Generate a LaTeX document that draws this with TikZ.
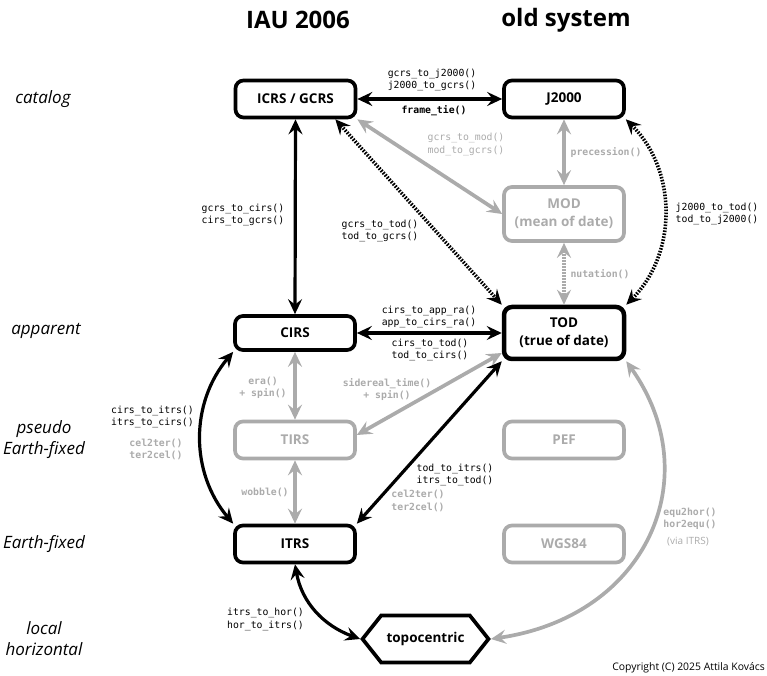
\documentclass[tikz,border=0pt]{standalone}
\usepackage{fontspec}
\setmainfont{Open Sans}
\setmonofont{DejaVu Sans Mono}
\usetikzlibrary{arrows.meta,shapes.symbols}
\definecolor{lg}{HTML}{ABABAB}
\begin{document}
\begin{tikzpicture}[x=1pt,y=1pt,
  >={Stealth[length=15pt,width=14pt,inset=5.5pt]},
  box/.style={draw, rounded corners=8pt, line width=3.7pt, minimum width=120pt,
    minimum height=37pt, inner sep=0pt, align=center,
    font=\fontsize{13.5}{18}\selectfont\bfseries},
  gbox/.style={box, draw=lg, text=lg},
  conn/.style={<->, line width=3.2pt},
  gconn/.style={<->, line width=3.7pt, draw=lg},
  dots/.style={dash pattern=on 1.6pt off 1.4pt},
  lbl/.style={inner sep=0pt, align=center, font=\fontsize{9.8}{12.5}\selectfont\ttfamily},
  glbl/.style={inner sep=0pt, align=center, text=lg, font=\fontsize{9.8}{12.5}\selectfont\ttfamily\bfseries},
  glbln/.style={lbl, text=lg},
  rowlbl/.style={inner sep=0pt, align=center, font=\fontsize{17}{21}\selectfont\itshape},
  head/.style={inner sep=0pt, font=\fontsize{24}{28}\selectfont\bfseries}
]
\useasboundingbox (0,0) rectangle (767,676);

% headers
\node[head] (h1) at (298,656) {IAU 2006};
\node[head] (h2) at (566,656) {old system};

% row labels
\node[rowlbl] (r1) at (43,577) {catalog};
\node[rowlbl] (r2) at (46,345) {apparent};
\node[rowlbl] (r3) at (44,236) {pseudo\\Earth-fixed};
\node[rowlbl] (r4) at (44,132) {Earth-fixed};
\node[rowlbl] (r5) at (44,37) {local\\horizontal};

% boxes
\node[box] (icrs) at (295.5,577) {ICRS / GCRS};
\node[box] (j2000) at (564,577) {J2000};
\node[gbox, minimum height=54pt] (mod) at (564,462) {MOD\\(mean of date)};
\node[box, line width=4.5pt, minimum height=52pt] (tod) at (564,343) {TOD\\(true of date)};
\node[box, minimum height=34pt] (cirs) at (295,343) {CIRS};
\node[gbox] (tirs) at (295,236) {TIRS};
\node[gbox] (pef) at (564,236) {PEF};
\node[box] (itrs) at (295,132) {ITRS};
\node[gbox] (wgs) at (564,132) {WGS84};
\node[draw, signal, signal to=east and west, signal pointer angle=103,
  line width=3.7pt, minimum width=126pt, minimum height=47pt, inner sep=0pt,
  font=\fontsize{13.5}{18}\selectfont\bfseries] (topo) at (425.5,37) {topocentric};

% connectors
\draw[conn] (icrs.east) -- (j2000.west);
\draw[conn] (icrs.south) -- (cirs.north);
\draw[conn, dots, line width=3.6pt] ([xshift=-22pt]icrs.south east) -- (tod.north west);
\draw[gconn] (icrs.south east) -- (mod.west);
\draw[gconn] (j2000.south) -- (mod.north);
\draw[gconn, dots] (mod.south) -- (tod.north);
\draw[conn, dots, line width=3.6pt] (j2000.south east) to[bend left=45] (tod.north east);
\draw[conn] (cirs.east) -- (tod.west);
\draw[gconn] (cirs.south) -- (tirs.north);
\draw[gconn] (tirs.south) -- (itrs.north);
\draw[gconn] ([yshift=-20pt]tod.west) -- ([yshift=5pt]tirs.east);
\draw[conn] (tod.south west) -- (itrs.north east);
\draw[conn] (cirs.south west) to[bend right=40] (itrs.north west);
\draw[conn] (itrs.south) to[out=-80,in=160] (topo.west);
\draw[gconn] (tod.south east) .. controls (708,200) and (648,60) .. (topo.east);

% connector labels
\node[lbl] (l1) at (432,596) {gcrs\_to\_j2000()\\j2000\_to\_gcrs()};
\node[lbl, font=\fontsize{9.8}{12.5}\selectfont\ttfamily\bfseries] (l2) at (434,565) {frame\_tie()};
\node[lbl] (l3) at (243,461) {gcrs\_to\_cirs()\\cirs\_to\_gcrs()};
\node[lbl] (l4) at (380,445) {gcrs\_to\_tod()\\tod\_to\_gcrs()};
\node[glbln] (l5) at (466,531.5) {gcrs\_to\_mod()\\mod\_to\_gcrs()};
\node[glbl] (l6) at (606,523) {precession()};
\node[glbl] (l7) at (600,402) {nutation()};
\node[lbl] (l8) at (717,462) {j2000\_to\_tod()\\tod\_to\_j2000()};
\node[lbl] (l9) at (429,359) {cirs\_to\_app\_ra()\\app\_to\_cirs\_ra()};
\node[lbl] (l10) at (430,326) {cirs\_to\_tod()\\tod\_to\_cirs()};
\node[glbl] (l11) at (263,288) {era()\\+ spin()};
\node[lbl] (l12) at (152.5,259) {cirs\_to\_itrs()\\itrs\_to\_cirs()};
\node[glbl] (l13) at (156,226.5) {cel2ter()\\ter2cel()};
\node[glbl] (l14) at (265,184) {wobble()};
\node[glbl] (l15) at (387,286.5) {sidereal\_time()\\+ spin()};
\node[lbl] (l16) at (455,201) {tod\_to\_itrs()\\itrs\_to\_tod()};
\node[glbl] (l17) at (418,175) {cel2ter()\\ter2cel()};
\node[glbl] (l18) at (690,157) {equ2hor()\\hor2equ()};
\node[inner sep=0pt, text=lg, font=\fontsize{10}{12}\selectfont] (l19) at (688,134) {(via ITRS)};
\node[lbl] (l20) at (265.5,56.5) {itrs\_to\_hor()\\hor\_to\_itrs()};

\node[inner sep=0pt, anchor=east, font=\fontsize{10.4}{12}\selectfont] (copy) at (765,8) {Copyright (C) 2025 Attila Kovács};
\end{tikzpicture}
\end{document}
